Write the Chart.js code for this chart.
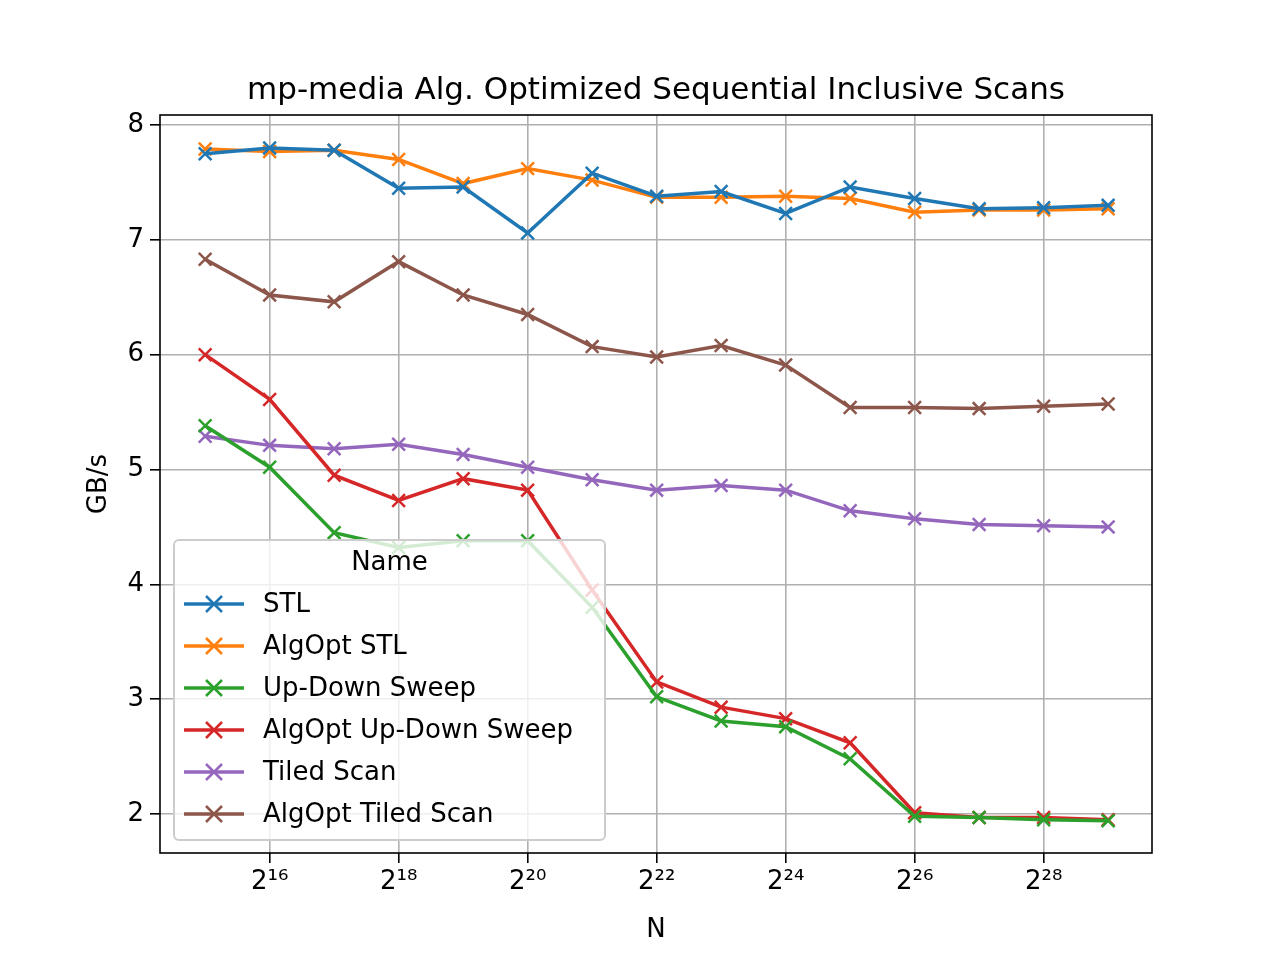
<!DOCTYPE html>
<html>
<head>
<meta charset="utf-8">
<script src="https://cdn.jsdelivr.net/npm/chart.js@4/dist/chart.umd.min.js"></script>
<style>
  html, body { margin: 0; padding: 0; background: #fff; }
  #wrap { width: 1280px; height: 960px; }
</style>
</head>
<body>
<div id="wrap"><canvas id="chart" width="1280" height="960"></canvas></div>
<script>
// x values are log2(N)
const exponents = [15, 16, 17, 18, 19, 20, 21, 22, 23, 24, 25, 26, 27, 28, 29];
const xTickExponents = [16, 18, 20, 22, 24, 26, 28];
const yTicks = [2, 3, 4, 5, 6, 7, 8];

const seriesNames = ['STL', 'AlgOpt STL', 'Up-Down Sweep', 'AlgOpt Up-Down Sweep', 'Tiled Scan', 'AlgOpt Tiled Scan'];
const seriesColors = ['#1f77b4', '#ff7f0e', '#2ca02c', '#d62728', '#9467bd', '#8c564b'];

const stl = [7.75, 7.80, 7.78, 7.45, 7.46, 7.06, 7.58, 7.38, 7.42, 7.23, 7.46, 7.36, 7.27, 7.28, 7.30];
const algOptStl = [7.79, 7.77, 7.78, 7.70, 7.49, 7.62, 7.52, 7.37, 7.37, 7.38, 7.36, 7.24, 7.26, 7.26, 7.27];
const upDown = [5.38, 5.02, 4.45, 4.32, 4.38, 4.38, 3.80, 3.02, 2.81, 2.76, 2.48, 1.98, 1.97, 1.95, 1.94];
const algOptUpDown = [6.00, 5.61, 4.95, 4.73, 4.92, 4.82, 3.95, 3.15, 2.93, 2.83, 2.62, 2.01, 1.97, 1.97, 1.95];
const tiled = [5.29, 5.21, 5.18, 5.22, 5.13, 5.02, 4.91, 4.82, 4.86, 4.82, 4.64, 4.57, 4.52, 4.51, 4.50];
const algOptTiled = [6.83, 6.52, 6.46, 6.81, 6.52, 6.35, 6.07, 5.98, 6.08, 5.91, 5.54, 5.54, 5.53, 5.55, 5.57];

const allSeries = [stl, algOptStl, upDown, algOptUpDown, tiled, algOptTiled];

const FONT = 'DejaVu Sans';
const SUP = { '0': '\u2070', '1': '\u00b9', '2': '\u00b2', '3': '\u00b3', '4': '\u2074',
              '5': '\u2075', '6': '\u2076', '7': '\u2077', '8': '\u2078', '9': '\u2079' };
const sup = n => String(n).split('').map(c => SUP[c]).join('');

const datasets = allSeries.map((vals, i) => ({
    label: seriesNames[i],
    data: vals.map((v, j) => ({ x: exponents[j], y: v })),
    borderColor: seriesColors[i],
    backgroundColor: seriesColors[i],
    borderWidth: 3.5,
    pointStyle: 'crossRot',
    pointRadius: 9,
    pointBorderWidth: 2.5,
    tension: 0
}));

// title, axis titles, frame and legend
const decor = {
    id: 'decor',
    afterDraw(chart) {
        const ctx = chart.ctx;
        const a = chart.chartArea;
        ctx.save();
        ctx.strokeStyle = '#000';
        ctx.lineWidth = 1.6;
        ctx.strokeRect(a.left, a.top, a.right - a.left, a.bottom - a.top);

        ctx.fillStyle = '#000';
        ctx.textAlign = 'center';
        ctx.textBaseline = 'alphabetic';
        ctx.font = `31px "${FONT}"`;
        ctx.fillText('mp-media Alg. Optimized Sequential Inclusive Scans', (a.left + a.right) / 2, 99);

        ctx.font = `26px "${FONT}"`;
        ctx.fillText('N', (a.left + a.right) / 2, 937);
        ctx.save();
        ctx.translate(106, (a.top + a.bottom) / 2);
        ctx.rotate(-Math.PI / 2);
        ctx.fillText('GB/s', 0, 0);
        ctx.restore();

        // legend
        const bx = 174, by = 540, bw = 431, bh = 300;
        ctx.fillStyle = 'rgba(255,255,255,0.8)';
        ctx.strokeStyle = '#cccccc';
        ctx.lineWidth = 2;
        ctx.beginPath();
        ctx.roundRect(bx, by, bw, bh, 5);
        ctx.fill();
        ctx.stroke();
        ctx.fillStyle = '#000';
        ctx.textBaseline = 'middle';
        ctx.fillText('Name', bx + bw / 2, 563);
        ctx.textAlign = 'left';
        seriesNames.forEach((name, i) => {
            const y = 604 + i * 42;
            ctx.strokeStyle = seriesColors[i];
            ctx.lineWidth = 3.5;
            ctx.beginPath();
            ctx.moveTo(184, y);
            ctx.lineTo(244, y);
            ctx.stroke();
            ctx.lineWidth = 2.5;
            const s = 8;
            ctx.beginPath();
            ctx.moveTo(214 - s, y - s); ctx.lineTo(214 + s, y + s);
            ctx.moveTo(214 - s, y + s); ctx.lineTo(214 + s, y - s);
            ctx.stroke();
            ctx.fillStyle = '#000';
            ctx.fillText(name, 263, y + 1);
        });
        ctx.restore();
    }
};

new Chart(document.getElementById('chart'), {
    type: 'line',
    data: { datasets },
    options: {
        responsive: false,
        animation: false,
        layout: { padding: { top: 115, right: 128, left: 0, bottom: 0 } },
        plugins: { legend: { display: false }, tooltip: { enabled: false } },
        scales: {
            x: {
                type: 'linear',
                min: 14.3,
                max: 29.68,
                afterFit(scale) { scale.height = 107; },
                afterBuildTicks(scale) { scale.ticks = xTickExponents.map(v => ({ value: v })); },
                ticks: {
                    color: '#000',
                    font: { family: FONT, size: 26 },
                    padding: 4,
                    callback: v => '2' + sup(v)
                },
                grid: { color: '#b0b0b0', lineWidth: 1.6, tickColor: '#000', tickLength: 10 },
                border: { display: false }
            },
            y: {
                min: 1.66,
                max: 8.087,
                afterFit(scale) { scale.width = 160; },
                afterBuildTicks(scale) { scale.ticks = yTicks.map(v => ({ value: v })); },
                ticks: {
                    color: '#000',
                    font: { family: FONT, size: 26 },
                    padding: 6
                },
                grid: { color: '#b0b0b0', lineWidth: 1.6, tickColor: '#000', tickLength: 10 },
                border: { display: false }
            }
        }
    },
    plugins: [decor]
});
</script>
</body>
</html>
